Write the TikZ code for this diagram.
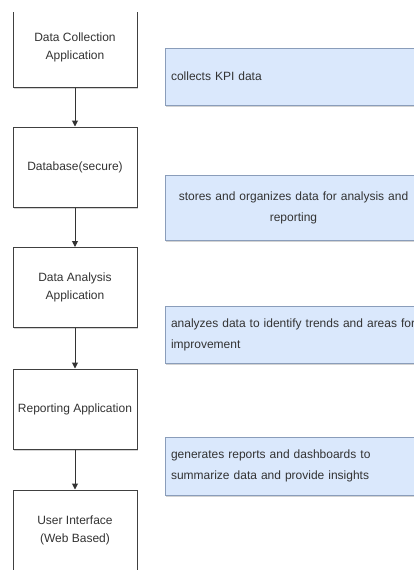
\documentclass[tikz,border=0pt]{standalone}
\usepackage{fontspec}
\setmainfont{Liberation Sans}
\usetikzlibrary{arrows.meta,shadows}

\definecolor{note_fill}{HTML}{DAE8FC}
\definecolor{note_line}{HTML}{8A9DBA}
\definecolor{txt_grey}{HTML}{333333}

\begin{document}
\begin{tikzpicture}[x=1pt,y=-1pt,
	app_node/.style={rectangle,draw=black!75,fill=white,line width=1pt,minimum width=124pt,minimum height=80pt,inner sep=2pt,align=center,text=txt_grey,font=\fontsize{12}{18}\selectfont,drop shadow={shadow xshift=1pt,shadow yshift=-1.5pt,opacity=0.35}},
	note_node/.style={rectangle,draw=note_line,fill=note_fill,line width=0.8pt,minimum width=257pt,text width=245pt,inner sep=6pt,align=left,text=txt_grey,font=\fontsize{12}{21}\selectfont,drop shadow={shadow xshift=1pt,shadow yshift=-2pt,opacity=0.35}},
	flow_arrow/.style={draw=black!80,line width=1pt,-{Triangle[length=6pt,width=6pt]}}]

		\useasboundingbox (0,0) rectangle (414,571);
		\clip (0,12) rectangle (414,569);

		\node[app_node] (collect) at (75,47) {Data Collection\\Application};
		\node[app_node] (db) at (75,167) {Database(secure)};
		\node[app_node] (analysis) at (75,287.5) {Data Analysis\\Application};
		\node[app_node] (report) at (75,409) {Reporting Application};
		\node[app_node] (ui) at (75,530) {User Interface\\(Web Based)};

		\node[note_node,minimum height=57pt] (collect_note) at (293.5,76.5) {collects KPI data};
		\node[note_node,minimum height=65pt,align=center] (db_note) at (293.5,207.5) {stores and organizes data for analysis and\\reporting};
		\node[note_node,minimum height=57pt] (analysis_note) at (293.5,334.5) {analyzes data to identify trends and areas for\\improvement};
		\node[note_node,minimum height=58pt] (report_note) at (293.5,466) {generates reports and dashboards to\\summarize data and provide insights};

		\draw[flow_arrow] (collect) -- (db);
		\draw[flow_arrow] (db) -- (analysis);
		\draw[flow_arrow] (analysis) -- (report);
		\draw[flow_arrow] (report) -- (ui);
		\end{tikzpicture}
\end{document}
